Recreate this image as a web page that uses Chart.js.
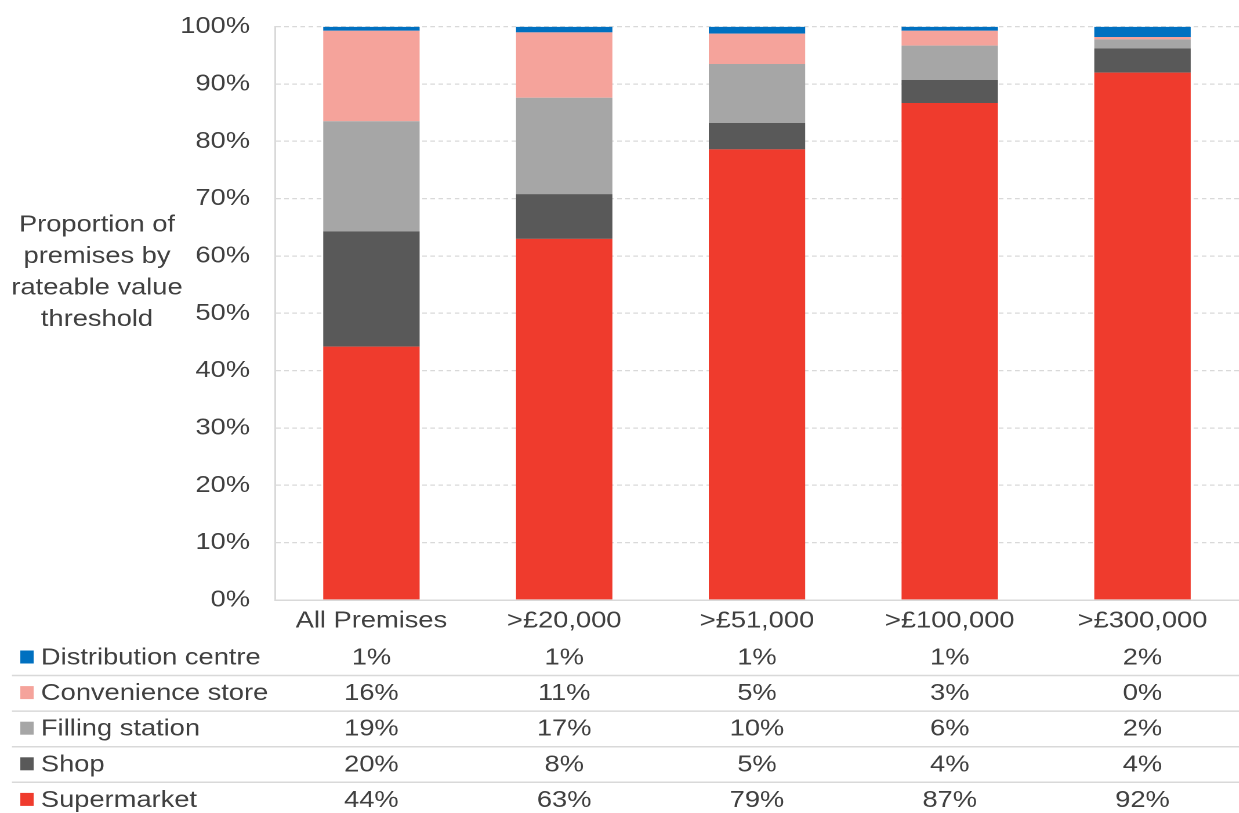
<!DOCTYPE html>
<html>
<head>
<meta charset="utf-8">
<script src="https://cdn.jsdelivr.net/npm/chart.js@4"></script>
<style>
  html, body { margin: 0; padding: 0; background: #fff; overflow: hidden; }
  /* the chart is laid out narrow and widened, so the text gets the same wide look */
  #wrap { width: 1068px; height: 822px; margin-top: -9px; transform: scaleX(1.16); transform-origin: 0 0; }
</style>
</head>
<body>
<div id="wrap"><canvas id="premisesChart" width="1068" height="822"></canvas></div>
<script>
// Rateable value thresholds
const categories = ['All Premises', '>£20,000', '>£51,000', '>£100,000', '>£300,000'];

// Share of premises (%) per type, per threshold
const supermarket  = [44.2, 63.0, 78.6, 86.7, 92.0];
const shop         = [20.1, 7.8, 4.6, 4.0, 4.2];
const filling      = [19.2, 16.8, 10.3, 6.0, 1.6];
const convenience  = [15.8, 11.4, 5.3, 2.6, 0.4];
const distribution = [0.7, 1.0, 1.2, 0.7, 1.8];

const yTicks = [0, 10, 20, 30, 40, 50, 60, 70, 80, 90, 100];
const yTitle = ['Proportion of', 'premises by', 'rateable value', 'threshold'];

const FONT = '"Liberation Sans", Arial, sans-serif';
const TEXT = '#404040';
const LINE = '#d9d9d9';
const SHIFT = 9; // canvas sits 9px higher than the page

// stack order, bottom to top
const series = [
    { label: 'Supermarket', data: supermarket, color: '#ef3b2d' },
    { label: 'Shop', data: shop, color: '#595959' },
    { label: 'Filling station', data: filling, color: '#a6a6a6' },
    { label: 'Convenience store', data: convenience, color: '#f5a39b' },
    { label: 'Distribution centre', data: distribution, color: '#0070c0' }
];

// Y axis title and the data table under the bars
const tablePlugin = {
    id: 'tablePlugin',
    afterDraw(chart) {
        const ctx = chart.ctx;
        const x = chart.scales.x;
        ctx.save();
        ctx.translate(0, SHIFT);
        ctx.fillStyle = TEXT;
        ctx.font = '23.5px ' + FONT;
        ctx.textBaseline = 'middle';

        ctx.textAlign = 'center';
        yTitle.forEach((line, i) => ctx.fillText(line, 83.6, 225 + i * 31.5));

        // table rows run top-down: last series first
        const rows = series.slice().reverse();
        rows.forEach((s, r) => {
            const y = 657 + r * 35.6;
            ctx.fillStyle = s.color;
            ctx.fillRect(17.5, y - 6.5, 11.5, 13);

            ctx.fillStyle = TEXT;
            ctx.textAlign = 'left';
            ctx.fillText(s.label, 35.3, y + 1);

            ctx.textAlign = 'center';
            s.data.forEach((v, i) => {
                ctx.fillText(Math.round(v) + '%', x.getPixelForValue(i), y + 1);
            });

            if (r < rows.length - 1) {
                ctx.strokeStyle = LINE;
                ctx.lineWidth = 1.5;
                ctx.beginPath();
                ctx.moveTo(10.3, y + 18.5);
                ctx.lineTo(chart.width, y + 18.5);
                ctx.stroke();
            }
        });
        ctx.restore();
    }
};

new Chart(document.getElementById('premisesChart'), {
    type: 'bar',
    data: {
        labels: categories,
        datasets: series.map(s => ({
            label: s.label,
            data: s.data,
            backgroundColor: s.color,
            borderWidth: 0,
            barPercentage: 0.5,
            categoryPercentage: 1
        }))
    },
    options: {
        responsive: false,
        animation: false,
        devicePixelRatio: 2,
        layout: { padding: { top: 18, left: 0, right: 0, bottom: 0 } },
        plugins: {
            legend: { display: false },
            tooltip: { enabled: false }
        },
        scales: {
            x: {
                stacked: true,
                grid: { display: false, drawTicks: false },
                border: { display: true, color: LINE, width: 1.5 },
                ticks: {
                    color: TEXT,
                    font: { family: FONT, size: 23.5 },
                    padding: 7,
                    maxRotation: 0,
                    autoSkip: false
                },
                afterFit(scale) { scale.height = 213; }
            },
            y: {
                stacked: true,
                min: 0,
                max: 100,
                afterBuildTicks(scale) { scale.ticks = yTicks.map(v => ({ value: v })); },
                grid: { color: LINE, lineWidth: 1.3, drawTicks: false },
                border: { display: true, color: LINE, width: 1.5, dash: [4, 3] },
                ticks: {
                    color: TEXT,
                    font: { family: FONT, size: 23.5 },
                    padding: 21.6,
                    callback: v => v + '%'
                },
                afterFit(scale) { scale.width = 237.1; }
            }
        }
    },
    plugins: [tablePlugin]
});
</script>
</body>
</html>
